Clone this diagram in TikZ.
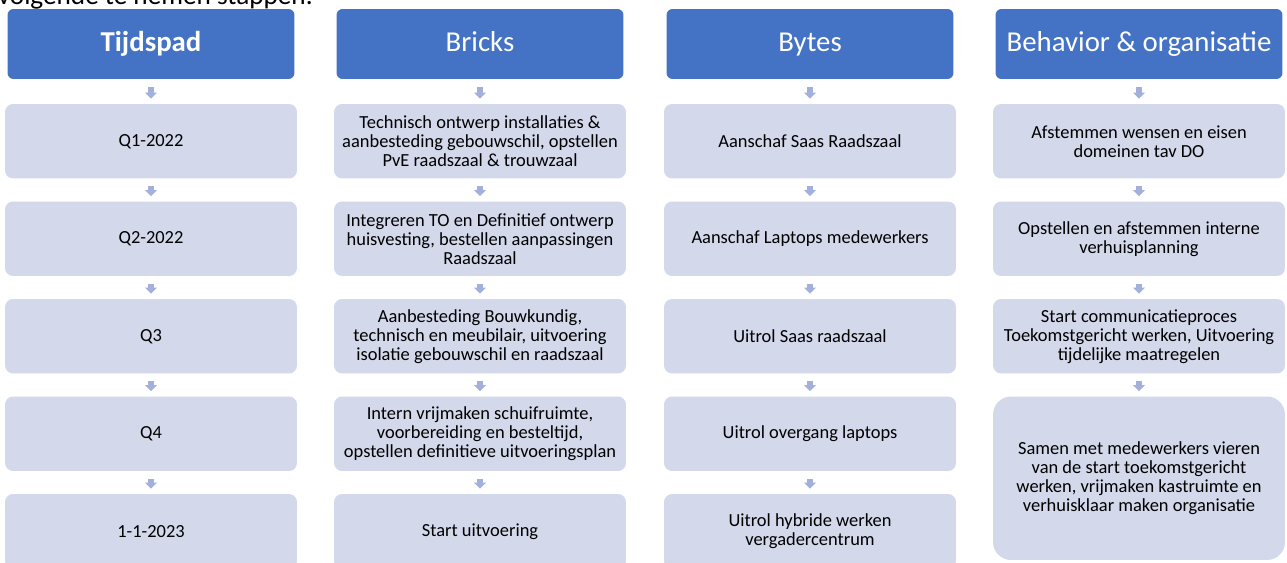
\documentclass[tikz,border=0pt]{standalone}
\usepackage{fontspec}
\setmainfont{Carlito}
\usetikzlibrary{arrows.meta}

\definecolor{testa}{HTML}{4472C4}
\definecolor{casella}{HTML}{D3D8EB}
\definecolor{freccia}{HTML}{A2B0DB}

\tikzset{
  header/.style={fill=testa, text=white, rounded corners=0.12cm,
    minimum width=5.74cm, minimum height=1.40cm, inner sep=0pt,
    text height=11.8pt, text depth=3.6pt,
    font=\fontsize{16.4}{19}\selectfont},
  stepbox/.style={fill=casella, text=black, rounded corners=0.16cm,
    minimum width=5.84cm, minimum height=1.49cm, inner sep=0pt, align=center,
    font=\fontsize{10.5}{10.8}\selectfont},
  bigbox/.style={stepbox, rounded corners=0.36cm, minimum height=3.27cm},
  blockarrow/.style={draw=freccia, line width=0.12cm,
    -{Triangle[width=0.23cm, length=0.12cm]},
    shorten <=0.15cm, shorten >=0.1cm}
}

\begin{document}
\begin{tikzpicture}[x=0.02cm, y=-0.02cm]

\useasboundingbox (0,0) rectangle (1287,563);
\clip (0,0) rectangle (1287,563);

% Testo tagliato in alto
\node[anchor=base east, inner sep=0pt, font=\fontsize{15.5}{18}\selectfont] (intro) at (313,5) {volgende te nemen stappen.};

% Intestazioni
\node[header] (tijd) at (151,44) {\textbf{Tijdspad}};
\node[header] (bricks) at (480,44) {Bricks};
\node[header] (bytes) at (810,44) {Bytes};
\node[header] (org) at (1139,44) {Behavior \& organisatie};

% Colonna Tijdspad
\node[stepbox] (tijd1) at (151,141.25) {Q1-2022};
\node[stepbox] (tijd2) at (151,238.75) {Q2-2022};
\node[stepbox] (tijd3) at (151,336.25) {Q3};
\node[stepbox] (tijd4) at (151,433.75) {Q4};
\node[stepbox] (tijd5) at (151,531.25) {1-1-2023};

% Colonna Bricks
\node[stepbox] (bricks1) at (480,141.25) {Technisch ontwerp installaties \&\\aanbesteding gebouwschil, opstellen\\PvE raadszaal \& trouwzaal};
\node[stepbox] (bricks2) at (480,238.75) {Integreren TO en Definitief ontwerp\\huisvesting, bestellen aanpassingen\\Raadszaal};
\node[stepbox] (bricks3) at (480,336.25) {Aanbesteding Bouwkundig,\\technisch en meubilair, uitvoering\\isolatie gebouwschil en raadszaal};
\node[stepbox] (bricks4) at (480,433.75) {Intern vrijmaken schuifruimte,\\voorbereiding en besteltijd,\\opstellen definitieve uitvoeringsplan};
\node[stepbox] (bricks5) at (480,531.25) {Start uitvoering};

% Colonna Bytes
\node[stepbox] (bytes1) at (810,141.25) {Aanschaf Saas Raadszaal};
\node[stepbox] (bytes2) at (810,238.75) {Aanschaf Laptops medewerkers};
\node[stepbox] (bytes3) at (810,336.25) {Uitrol Saas raadszaal};
\node[stepbox] (bytes4) at (810,433.75) {Uitrol overgang laptops};
\node[stepbox] (bytes5) at (810,531.25) {Uitrol hybride werken\\vergadercentrum};

% Colonna organisatie
\node[stepbox] (org1) at (1139,141.25) {Afstemmen wensen en eisen\\domeinen tav DO};
\node[stepbox] (org2) at (1139,238.75) {Opstellen en afstemmen interne\\verhuisplanning};
\node[stepbox] (org3) at (1139,336.25) {Start communicatieproces\\Toekomstgericht werken, Uitvoering\\tijdelijke maatregelen};
\node[bigbox] (org4) at (1139,478.25) {Samen met medewerkers vieren\\van de start toekomstgericht\\werken, vrijmaken kastruimte en\\verhuisklaar maken organisatie};

% Frecce
\draw[blockarrow] (tijd) -- (tijd1);
\draw[blockarrow] (tijd1) -- (tijd2);
\draw[blockarrow] (tijd2) -- (tijd3);
\draw[blockarrow] (tijd3) -- (tijd4);
\draw[blockarrow] (tijd4) -- (tijd5);

\draw[blockarrow] (bricks) -- (bricks1);
\draw[blockarrow] (bricks1) -- (bricks2);
\draw[blockarrow] (bricks2) -- (bricks3);
\draw[blockarrow] (bricks3) -- (bricks4);
\draw[blockarrow] (bricks4) -- (bricks5);

\draw[blockarrow] (bytes) -- (bytes1);
\draw[blockarrow] (bytes1) -- (bytes2);
\draw[blockarrow] (bytes2) -- (bytes3);
\draw[blockarrow] (bytes3) -- (bytes4);
\draw[blockarrow] (bytes4) -- (bytes5);

\draw[blockarrow] (org) -- (org1);
\draw[blockarrow] (org1) -- (org2);
\draw[blockarrow] (org2) -- (org3);
\draw[blockarrow] (org3) -- (org4);

\end{tikzpicture}
\end{document}
